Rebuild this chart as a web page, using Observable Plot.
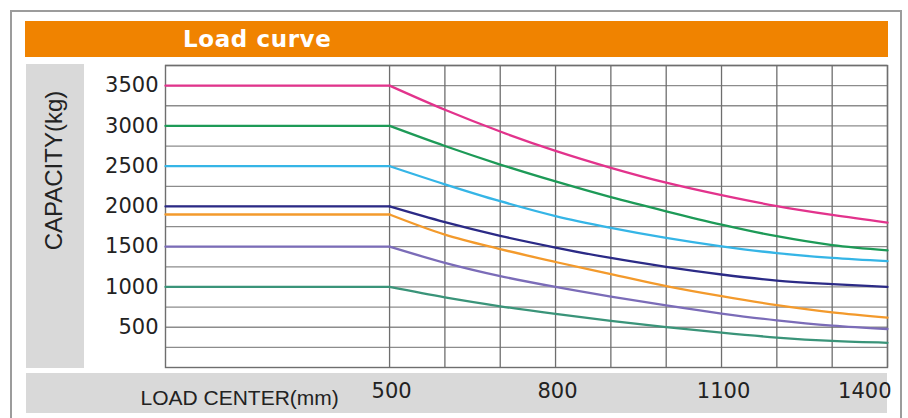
<!DOCTYPE html>
<html><head><meta charset="utf-8">
<script src="https://cdn.jsdelivr.net/npm/d3@7"></script>
<script src="https://cdn.jsdelivr.net/npm/@observablehq/plot@0.6"></script>
<style>
body{margin:0;background:#fff;}
#wrap{position:relative;width:908px;height:418px;overflow:hidden;background:#fff;}
#frame{position:absolute;left:10px;top:10px;width:892px;height:430px;border:2px solid #9c9c9c;box-sizing:border-box;}
#bar{position:absolute;left:25px;top:21px;width:863px;height:36px;background:#f08300;}
#title{position:absolute;left:158px;top:0;line-height:36px;font-family:"DejaVu Sans";font-weight:bold;font-size:23px;color:#fff;letter-spacing:0.6px;margin:0;white-space:nowrap;}
#lpanel{position:absolute;left:26px;top:64px;width:58px;height:304px;background:#d9d9d9;}
#bpanel{position:absolute;left:26px;top:373px;width:861px;height:40px;background:#d9d9d9;}
#chart{position:absolute;left:0;top:0;}
</style>
</head>
<body>
<div id="wrap">
  <div id="frame"></div>
  <div id="bar"><h1 id="title">Load curve</h1></div>
  <div id="lpanel"></div>
  <div id="bpanel"></div>
  <div id="chart"></div>
</div>
<script>
// ---- data ----
const xStart = 95;
const loadCenter = [500, 600, 700, 800, 900, 1000, 1100, 1200, 1300, 1400];
const seriesNames = ["3500 kg", "3000 kg", "2500 kg", "2000 kg", "1900 kg", "1500 kg", "1000 kg"];
const seriesColors = ["#e2338c", "#1d9a57", "#35b5e6", "#2b2a86", "#f39a2c", "#7b6cb8", "#3a9479"];
const cap3500 = [3500, 3200, 2930, 2690, 2480, 2295, 2140, 2005, 1895, 1800];
const cap3000 = [3000, 2750, 2520, 2310, 2115, 1940, 1775, 1630, 1520, 1455];
const cap2500 = [2500, 2275, 2065, 1880, 1735, 1610, 1505, 1420, 1360, 1320];
const cap2000 = [2000, 1805, 1635, 1490, 1360, 1250, 1155, 1080, 1035, 1000];
const cap1900 = [1900, 1650, 1470, 1310, 1160, 1010, 885, 775, 685, 620];
const cap1500 = [1500, 1300, 1135, 1000, 880, 770, 670, 585, 520, 478];
const cap1000 = [1000, 870, 760, 665, 580, 502, 432, 372, 330, 307];
const yTicks = [500, 1000, 1500, 2000, 2500, 3000, 3500];
const yGrid = [250, 500, 750, 1000, 1250, 1500, 1750, 2000, 2250, 2500, 2750, 3000, 3250, 3500, 3750];
const xGrid = [500, 600, 700, 800, 900, 1000, 1100, 1200, 1300, 1400];
const xTicks = [500, 800, 1100, 1400];
const yLabel = "CAPACITY(kg)";
const xLabel = "LOAD CENTER(mm)";

// ---- build tables ----
const allSeries = [cap3500, cap3000, cap2500, cap2000, cap1900, cap1500, cap1000];
const flatRows = [];
const curveRows = [];
allSeries.forEach((vals, i) => {
  const s = seriesNames[i];
  flatRows.push({series: s, x: xStart, y: vals[0]});
  flatRows.push({series: s, x: loadCenter[0], y: vals[0]});
  vals.forEach((v, j) => curveRows.push({series: s, x: loadCenter[j], y: v}));
});

const plain = d => String(d);

const chart = Plot.plot({
  width: 908,
  height: 418,
  marginLeft: 165,
  marginRight: 21,
  marginTop: 65,
  marginBottom: 51,
  x: {domain: [xStart, 1400]},
  y: {domain: [0, 3750]},
  color: {domain: seriesNames, range: seriesColors},
  style: {background: "transparent", overflow: "visible"},
  marks: [
    Plot.gridY(yGrid, {stroke: "#8c8c8c", strokeOpacity: 1, strokeWidth: 1.3}),
    Plot.gridX(xGrid, {stroke: "#6e6e6e", strokeOpacity: 1, strokeWidth: 1.3}),
    Plot.frame({stroke: "#6e6e6e", strokeWidth: 1.4}),
    Plot.line(flatRows, {x: "x", y: "y", z: "series", stroke: "series", strokeWidth: 2.3}),
    Plot.line(curveRows, {x: "x", y: "y", z: "series", stroke: "series", strokeWidth: 2.3, curve: "monotone-x"}),
    Plot.axisY(yTicks, {tickSize: 0, tickPadding: 7, tickFormat: plain, fontSize: 21, fontFamily: "DejaVu Sans", fill: "#222", label: null}),
    Plot.axisX(xTicks.slice(0, 3), {tickSize: 0, tickPadding: 16, dx: 2, tickFormat: plain, fontSize: 21, fontFamily: "DejaVu Sans", fill: "#222", label: null}),
    Plot.axisX(xTicks.slice(3), {tickSize: 0, tickPadding: 16, dx: 4, textAnchor: "end", tickFormat: plain, fontSize: 21, fontFamily: "DejaVu Sans", fill: "#222", label: null}),
    Plot.text([yLabel], {text: d => d, frameAnchor: "top-left", dx: -111, dy: 105, rotate: -90, textAnchor: "middle", lineAnchor: "middle", fontSize: 24, fontFamily: "Liberation Sans", fill: "#222"}),
    Plot.text([xLabel], {text: d => d, frameAnchor: "bottom-left", dx: -25, dy: 37, textAnchor: "start", lineAnchor: "bottom", fontSize: 21, fontFamily: "Liberation Sans", fill: "#222"})
  ]
});
document.getElementById("chart").appendChild(chart);
</script>
</body></html>
